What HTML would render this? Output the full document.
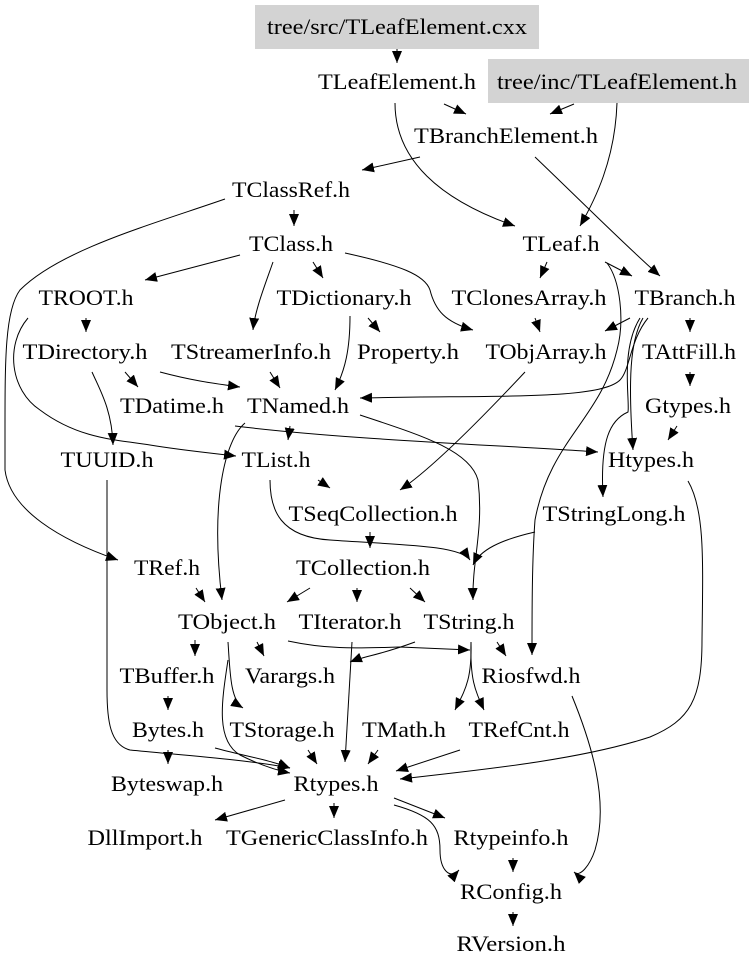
<!DOCTYPE html>
<html><head><meta charset="utf-8"><style>
html,body{margin:0;padding:0;background:#fff;}
svg{display:block;}
text{font-family:"Liberation Serif",serif;font-size:22px;fill:#000;}
path{fill:none;stroke:#000;stroke-width:1;}
</style></head><body>
<svg width="751" height="971" viewBox="0 0 751 971" xmlns="http://www.w3.org/2000/svg">
<defs><marker id="a" markerUnits="userSpaceOnUse" markerWidth="12" markerHeight="10" refX="12" refY="5" orient="auto"><path d="M0,0 L12,5 L0,10 z" style="fill:#000;stroke:none"/></marker></defs>
<rect x="255" y="5" width="284" height="44" fill="#d3d3d3"/>
<rect x="488" y="59" width="261" height="44" fill="#d3d3d3"/>
<g marker-end="url(#a)">
<path d="M397,49 L397,63"/>
<path d="M444,104 L466,114"/>
<path d="M574,104 L550,114"/>
<path d="M395,103 C395,160 440,200 515,226"/>
<path d="M617,103 C615,160 595,200 580,226"/>
<path d="M420,157 L362,170"/>
<path d="M535,157 C580,200 630,250 660,276"/>
<path d="M225,199 C150,225 60,250 20,290 C5,310 5,360 5,430 L5,470 C10,510 60,540 118,560"/>
<path d="M294,210 L294,226"/>
<path d="M240,255 L145,280"/>
<path d="M273,262 C265,285 255,310 253,330"/>
<path d="M313,262 L323,278"/>
<path d="M345,253 C400,265 425,275 430,290 C435,310 445,322 473,330"/>
<path d="M547,262 L540,278"/>
<path d="M605,262 L632,276"/>
<path d="M607,263 C620,280 625,320 617,350 C600,420 550,440 535,520 C532,560 532,610 532,655"/>
<path d="M368,318 L380,332"/>
<path d="M350,316 C350,350 345,370 335,390"/>
<path d="M535,318 L540,332"/>
<path d="M630,318 L605,331"/>
<path d="M690,318 L690,332"/>
<path d="M648,318 C630,340 630,370 620,380 C600,400 500,395 360,398"/>
<path d="M643,318 C630,340 628,380 633,450"/>
<path d="M640,318 C620,350 630,400 628,412 C610,420 600,440 603,497"/>
<path d="M86,318 L86,332"/>
<path d="M28,318 C5,345 10,390 40,410 C80,440 120,440 150,445 C180,450 210,453 236,456"/>
<path d="M125,372 L138,387"/>
<path d="M160,372 C190,380 210,383 240,387"/>
<path d="M92,372 C100,390 112,410 113,445"/>
<path d="M270,372 L280,388"/>
<path d="M690,372 L690,386"/>
<path d="M677,426 L668,440"/>
<path d="M290,426 L288,440"/>
<path d="M245,423 C225,440 210,500 222,600"/>
<path d="M360,415 C420,435 470,450 478,480 C484,530 472,560 473,600"/>
<path d="M235,426 C350,440 500,445 598,452"/>
<path d="M525,372 C480,420 430,470 400,490"/>
<path d="M318,480 L330,488"/>
<path d="M270,480 C270,510 280,537 330,540 C400,545 460,545 470,560"/>
<path d="M535,532 C500,540 480,550 473,565"/>
<path d="M370,532 L370,548"/>
<path d="M688,481 C705,510 703,560 702,640 C702,700 690,720 650,737 C580,760 480,770 400,779"/>
<path d="M107,480 L107,690 C107,720 110,745 130,750 C180,755 250,760 290,768"/>
<path d="M196,588 L205,602"/>
<path d="M310,588 L287,602"/>
<path d="M357,588 L357,602"/>
<path d="M410,588 L425,602"/>
<path d="M195,640 L195,656"/>
<path d="M257,642 L264,656"/>
<path d="M288,641 C330,650 360,648 400,647 L470,650"/>
<path d="M228,642 C230,670 230,700 243,708"/>
<path d="M228,660 C222,700 215,740 240,755 C260,765 275,770 290,773"/>
<path d="M352,642 L345,762"/>
<path d="M415,642 C380,655 365,656 350,662"/>
<path d="M497,642 L506,656"/>
<path d="M471,642 C472,680 465,690 455,710"/>
<path d="M471,642 C470,680 475,690 484,710"/>
<path d="M168,696 L168,710"/>
<path d="M308,750 L317,764"/>
<path d="M378,750 L368,764"/>
<path d="M460,750 L396,771"/>
<path d="M168,750 L168,764"/>
<path d="M215,748 C240,755 270,760 290,768"/>
<path d="M572,696 C590,740 610,800 595,850 C590,865 580,878 574,872"/>
<path d="M285,800 L215,820"/>
<path d="M334,803 L334,818"/>
<path d="M394,798 L445,818"/>
<path d="M394,805 C430,815 440,825 440,850 C440,870 450,880 459,870"/>
<path d="M513,858 L513,872"/>
<path d="M513,912 L513,926"/>
</g>
<g text-anchor="middle">
<text x="397" y="34" textLength="260" lengthAdjust="spacingAndGlyphs">tree/src/TLeafElement.cxx</text>
<text x="397" y="89" textLength="158" lengthAdjust="spacingAndGlyphs">TLeafElement.h</text>
<text x="617" y="89" textLength="240" lengthAdjust="spacingAndGlyphs">tree/inc/TLeafElement.h</text>
<text x="506" y="143" textLength="184" lengthAdjust="spacingAndGlyphs">TBranchElement.h</text>
<text x="291" y="197" textLength="118" lengthAdjust="spacingAndGlyphs">TClassRef.h</text>
<text x="291" y="251" textLength="84" lengthAdjust="spacingAndGlyphs">TClass.h</text>
<text x="561" y="251" textLength="77" lengthAdjust="spacingAndGlyphs">TLeaf.h</text>
<text x="86" y="305" textLength="95" lengthAdjust="spacingAndGlyphs">TROOT.h</text>
<text x="344" y="305" textLength="135" lengthAdjust="spacingAndGlyphs">TDictionary.h</text>
<text x="529" y="305" textLength="155" lengthAdjust="spacingAndGlyphs">TClonesArray.h</text>
<text x="685" y="305" textLength="101" lengthAdjust="spacingAndGlyphs">TBranch.h</text>
<text x="85" y="359" textLength="125" lengthAdjust="spacingAndGlyphs">TDirectory.h</text>
<text x="251" y="359" textLength="160" lengthAdjust="spacingAndGlyphs">TStreamerInfo.h</text>
<text x="408" y="359" textLength="102" lengthAdjust="spacingAndGlyphs">Property.h</text>
<text x="546" y="359" textLength="121" lengthAdjust="spacingAndGlyphs">TObjArray.h</text>
<text x="689" y="359" textLength="94" lengthAdjust="spacingAndGlyphs">TAttFill.h</text>
<text x="172" y="413" textLength="104" lengthAdjust="spacingAndGlyphs">TDatime.h</text>
<text x="298" y="413" textLength="102" lengthAdjust="spacingAndGlyphs">TNamed.h</text>
<text x="688" y="413" textLength="86" lengthAdjust="spacingAndGlyphs">Gtypes.h</text>
<text x="107" y="467" textLength="93" lengthAdjust="spacingAndGlyphs">TUUID.h</text>
<text x="276" y="467" textLength="69" lengthAdjust="spacingAndGlyphs">TList.h</text>
<text x="651" y="467" textLength="86" lengthAdjust="spacingAndGlyphs">Htypes.h</text>
<text x="373" y="521" textLength="169" lengthAdjust="spacingAndGlyphs">TSeqCollection.h</text>
<text x="614" y="521" textLength="143" lengthAdjust="spacingAndGlyphs">TStringLong.h</text>
<text x="167" y="575" textLength="66" lengthAdjust="spacingAndGlyphs">TRef.h</text>
<text x="363" y="575" textLength="134" lengthAdjust="spacingAndGlyphs">TCollection.h</text>
<text x="227" y="629" textLength="98" lengthAdjust="spacingAndGlyphs">TObject.h</text>
<text x="350" y="629" textLength="103" lengthAdjust="spacingAndGlyphs">TIterator.h</text>
<text x="469" y="629" textLength="91" lengthAdjust="spacingAndGlyphs">TString.h</text>
<text x="167" y="683" textLength="95" lengthAdjust="spacingAndGlyphs">TBuffer.h</text>
<text x="290" y="683" textLength="90" lengthAdjust="spacingAndGlyphs">Varargs.h</text>
<text x="531" y="683" textLength="99" lengthAdjust="spacingAndGlyphs">Riosfwd.h</text>
<text x="168" y="737" textLength="72" lengthAdjust="spacingAndGlyphs">Bytes.h</text>
<text x="282" y="737" textLength="105" lengthAdjust="spacingAndGlyphs">TStorage.h</text>
<text x="404" y="737" textLength="84" lengthAdjust="spacingAndGlyphs">TMath.h</text>
<text x="519" y="737" textLength="101" lengthAdjust="spacingAndGlyphs">TRefCnt.h</text>
<text x="167" y="791" textLength="112" lengthAdjust="spacingAndGlyphs">Byteswap.h</text>
<text x="336" y="791" textLength="85" lengthAdjust="spacingAndGlyphs">Rtypes.h</text>
<text x="145" y="845" textLength="115" lengthAdjust="spacingAndGlyphs">DllImport.h</text>
<text x="327" y="845" textLength="202" lengthAdjust="spacingAndGlyphs">TGenericClassInfo.h</text>
<text x="511" y="845" textLength="115" lengthAdjust="spacingAndGlyphs">Rtypeinfo.h</text>
<text x="511" y="899" textLength="102" lengthAdjust="spacingAndGlyphs">RConfig.h</text>
<text x="511" y="951" textLength="109" lengthAdjust="spacingAndGlyphs">RVersion.h</text>
</g>
</svg>
</body></html>
